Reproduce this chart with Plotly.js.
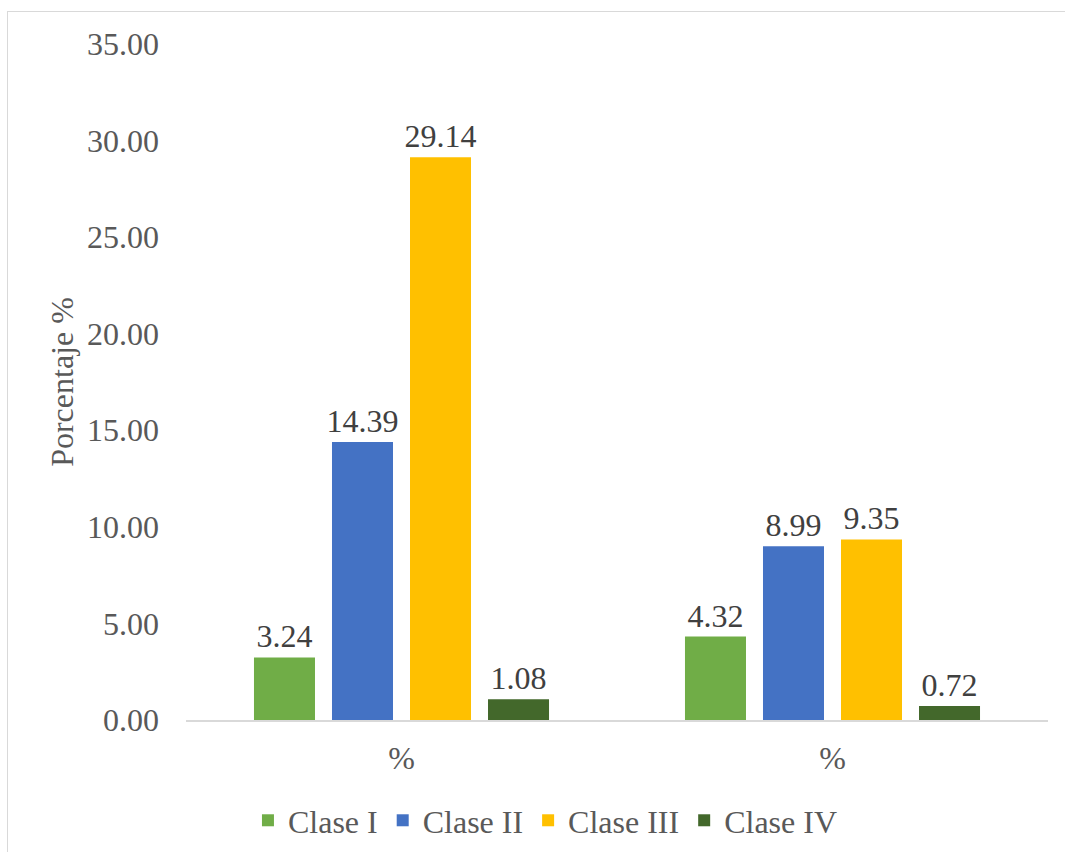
<!DOCTYPE html>
<html>
<head>
<meta charset="utf-8">
<script src="https://cdn.plot.ly/plotly-3.0.1.min.js"></script>
<style>
  html, body { margin: 0; padding: 0; background: #fff; }
  #wrap { position: relative; width: 1065px; height: 852px; overflow: hidden; }
  #chart { width: 1065px; height: 852px; }
  #frame { position: absolute; left: 7px; top: 11px; width: 1100px; height: 900px;
           border: 1px solid #d9d9d9; pointer-events: none; }
</style>
</head>
<body>
<div id="wrap">
  <div id="chart"></div>
  <div id="frame"></div>
</div>
<script>
const categories = ["%", "%"];
const seriesNames = ["Clase I", "Clase II", "Clase III", "Clase IV"];
const claseI = [3.24, 4.32];
const claseII = [14.39, 8.99];
const claseIII = [29.14, 9.35];
const claseIV = [1.08, 0.72];
const seriesColors = ["#70AD47", "#4472C4", "#FFC000", "#43682B"];
const yTicks = [0, 5, 10, 15, 20, 25, 30, 35];

const values = [claseI, claseII, claseIII, claseIV];
const xPos = categories.map((c, i) => i);
const FONT = "Liberation Serif, Times New Roman, serif";
const FS = 32;

const traces = values.map((v, k) => ({
  type: "bar",
  name: seriesNames[k],
  x: xPos,
  y: v,
  marker: { color: seriesColors[k] },
  texttemplate: "%{y:.2f}",
  textposition: "outside",
  constraintext: "none",
  textfont: { family: FONT, size: FS, color: "#404040" },
  cliponaxis: false,
  hoverinfo: "skip"
}));

const layout = {
  width: 1065,
  height: 852,
  margin: { l: 186, r: 17, t: 44, b: 132 },
  paper_bgcolor: "#ffffff",
  plot_bgcolor: "#ffffff",
  barmode: "group",
  bargap: 0.276,
  bargroupgap: 0.218,
  font: { family: FONT, color: "#595959" },
  xaxis: {
    tickvals: xPos,
    ticktext: categories,
    range: [-0.5, 1.5],
    automargin: false,
    showgrid: false,
    zeroline: false,
    showline: true,
    linecolor: "#d9d9d9",
    linewidth: 2,
    ticks: "",
    ticklabelstandoff: 9,
    tickfont: { family: FONT, size: FS, color: "#595959" },
    fixedrange: true
  },
  yaxis: {
    range: [0, 35],
    tickvals: yTicks,
    tickformat: ".2f",
    automargin: false,
    showgrid: false,
    zeroline: false,
    showline: false,
    ticks: "",
    ticklabelstandoff: 26,
    tickfont: { family: FONT, size: FS, color: "#595959" },
    title: { text: "Porcentaje %", font: { family: FONT, size: FS, color: "#595959" }, standoff: 3 },
    fixedrange: true
  },
  showlegend: true,
  legend: {
    orientation: "h",
    x: 0.417,
    xanchor: "center",
    yref: "container",
    y: 0.037,
    yanchor: "middle",
    font: { family: FONT, size: FS, color: "#595959" },
    itemwidth: 30,
    traceorder: "normal"
  }
};

Plotly.newPlot("chart", traces, layout, { displayModeBar: false, staticPlot: true });
</script>
</body>
</html>
